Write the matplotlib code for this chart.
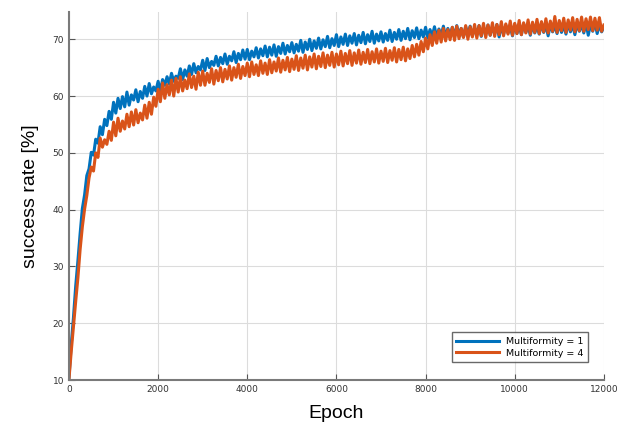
import numpy as np
import matplotlib
matplotlib.use("Agg")
import matplotlib.pyplot as plt

# epochs sampled every 50
epochs = np.arange(0, 12001, 50)

# Multiformity = 1
rate_m1 = [
    10.5, 16.2, 21.0, 26.5, 31.0, 35.8, 40.2, 42.6, 46.0, 47.2,
    50.1, 49.6, 52.4, 51.7, 54.6, 53.2, 55.9, 54.8, 57.3, 55.9,
    58.9, 57.0, 59.6, 57.8, 59.9, 58.1, 60.7, 58.4, 60.2, 59.3,
    61.1, 59.0, 60.8, 59.6, 61.7, 60.0, 62.2, 60.4, 61.6, 60.9,
    62.6, 60.8, 62.9, 61.9, 63.4, 62.1, 64.0, 62.6, 63.5, 63.1,
    64.8, 62.9, 64.6, 63.5, 65.3, 63.8, 65.7, 64.1, 65.2, 64.6,
    66.3, 64.5, 66.6, 65.0, 66.1, 65.4, 67.0, 65.3, 66.8, 65.7,
    67.4, 65.6, 67.0, 66.2, 67.8, 65.9, 67.5, 66.4, 68.1, 66.5,
    68.2, 66.4, 67.9, 66.9, 68.5, 66.7, 68.3, 67.1, 68.8, 66.9,
    68.6, 67.2, 69.0, 67.0, 68.7, 67.5, 69.3, 67.4, 68.9, 67.8,
    69.4, 67.6, 69.1, 67.9, 69.8, 67.7, 69.5, 68.2, 70.0, 68.0,
    69.7, 68.4, 70.2, 68.3, 69.9, 68.7, 70.5, 68.5, 70.1, 68.9,
    70.8, 68.7, 70.4, 69.1, 70.9, 68.9, 70.6, 69.3, 71.0, 69.0,
    70.7, 69.4, 71.2, 69.2, 70.8, 69.6, 71.4, 69.3, 70.9, 69.7,
    71.3, 69.5, 71.0, 69.8, 71.6, 69.6, 71.2, 70.0, 71.7, 69.8,
    71.4, 70.1, 71.9, 69.9, 71.5, 70.3, 72.0, 70.1, 71.6, 70.4,
    72.1, 70.2, 71.7, 70.5, 72.2, 70.3, 71.8, 70.6, 72.3, 70.4,
    71.9, 70.7, 72.1, 70.5, 72.4, 70.8, 71.9, 70.4, 72.2, 70.9,
    72.3, 70.6, 72.0, 70.9, 72.4, 70.5, 72.1, 71.0, 72.5, 70.7,
    72.2, 71.0, 72.6, 70.4, 72.3, 70.9, 72.5, 71.1, 72.2, 70.6,
    72.6, 71.0, 72.3, 70.8, 72.7, 71.2, 72.4, 70.7, 72.6, 71.1,
    72.3, 70.9, 72.8, 71.2, 72.5, 70.6, 72.7, 71.3, 72.4, 71.0,
    72.8, 71.2, 72.5, 70.9, 72.9, 71.3, 72.6, 70.8, 72.8, 71.4,
    72.6, 71.1, 72.9, 70.7, 72.7, 71.4, 73.0, 71.0, 72.6, 71.3,
    72.2,
]

# Multiformity = 4
rate_m4 = [
    10.2, 15.0, 19.5, 23.8, 28.0, 33.0, 37.0, 40.1, 42.5, 45.6,
    47.5, 46.8, 50.0, 49.2, 52.6, 51.0, 52.3, 51.5, 53.8, 52.2,
    55.4, 53.0, 56.1, 53.8, 55.6, 54.2, 56.8, 54.6, 57.2, 54.9,
    57.6, 55.3, 57.0, 55.8, 58.4, 56.1, 58.9, 56.8, 59.8, 58.2,
    61.2, 59.0, 62.3, 59.6, 62.0, 60.2, 62.8, 60.0, 63.1, 60.7,
    63.4, 60.9, 62.8, 61.3, 63.9, 61.5, 63.5, 61.2, 64.2, 61.9,
    64.4, 61.9, 64.0, 62.4, 64.8, 62.1, 64.5, 62.7, 65.0, 62.5,
    64.7, 63.0, 65.3, 62.8, 65.0, 63.3, 65.6, 63.1, 65.2, 63.6,
    65.8, 63.4, 66.0, 63.8, 65.5, 63.6, 66.2, 64.0, 65.8, 63.8,
    66.4, 64.1, 66.0, 64.4, 66.7, 64.2, 66.3, 64.6, 66.8, 64.3,
    66.5, 64.7, 67.1, 64.5, 66.7, 64.9, 67.2, 64.6, 66.9, 65.1,
    67.4, 64.8, 67.0, 65.2, 67.6, 65.0, 67.2, 65.4, 67.7, 65.1,
    67.4, 65.5, 67.9, 65.3, 67.5, 65.7, 68.0, 65.4, 67.6, 65.8,
    68.1, 65.6, 67.7, 65.9, 68.2, 65.7, 67.8, 66.0, 68.3, 65.8,
    67.9, 66.1, 68.4, 65.9, 68.0, 66.3, 68.5, 66.0, 68.2, 66.4,
    68.6, 66.2, 68.3, 66.6, 68.9, 66.9, 69.1, 67.2, 69.6, 67.8,
    70.2, 68.3, 70.8, 68.9, 71.3, 69.3, 71.6, 69.5, 71.9, 69.7,
    71.7, 69.9, 72.1, 69.8, 72.3, 70.1, 71.9, 70.3, 72.4, 70.0,
    72.2, 70.4, 72.6, 70.2, 72.4, 70.6, 72.8, 70.3, 72.5, 70.7,
    72.9, 70.5, 72.6, 70.8, 73.1, 70.6, 72.7, 70.9, 73.2, 70.7,
    72.8, 71.0, 73.3, 70.8, 72.9, 71.1, 73.4, 70.9, 73.0, 71.2,
    73.5, 71.0, 73.1, 71.3, 73.6, 71.1, 73.2, 71.4, 74.0, 71.2,
    73.3, 71.5, 73.7, 71.2, 73.4, 71.6, 73.8, 71.3, 73.5, 71.5,
    73.9, 71.4, 73.6, 71.7, 73.9, 71.5, 73.7, 71.6, 73.8, 71.4,
    72.5,
]

blue = "#0072BD"
orange = "#D95319"

fig = plt.figure(figsize=(6.3, 4.43), dpi=100)
ax = fig.add_axes([0.1095, 0.142, 0.849, 0.831])

ax.plot(epochs, rate_m1, color=blue, lw=2.2, label="Multiformity = 1")
ax.plot(epochs, rate_m4, color=orange, lw=2.2, label="Multiformity = 4")

ax.set_xlim(0, 12000)
ax.set_ylim(10, 74.8)
ax.set_xticks(np.arange(0, 12001, 2000))
ax.set_yticks(np.arange(10, 71, 10))

ax.grid(True, color="#dcdcdc", lw=0.8)
ax.set_axisbelow(True)
for s in ["top", "right"]:
    ax.spines[s].set_visible(False)
for s in ["left", "bottom"]:
    ax.spines[s].set_color("#7a7a7a")
    ax.spines[s].set_linewidth(1.5)
ax.tick_params(direction="in", length=4, width=0.8, color="#555555",
               labelsize=6.5, labelcolor="#333333")

ax.set_xlabel("Epoch", fontsize=14, family="Liberation Sans", labelpad=8)
ax.set_ylabel("success rate [%]", fontsize=14, family="Liberation Sans", labelpad=10)

leg = ax.legend(loc="lower right", fontsize=6.8, frameon=True, fancybox=False,
                handlelength=4.5, borderpad=0.5, labelspacing=0.3,
                bbox_to_anchor=(0.98, 0.035))
leg.get_frame().set_edgecolor("#444444")
leg.get_frame().set_linewidth(1.0)
for line in leg.get_lines():
    line.set_linewidth(2.2)

fig.savefig("out.png", dpi=100)
